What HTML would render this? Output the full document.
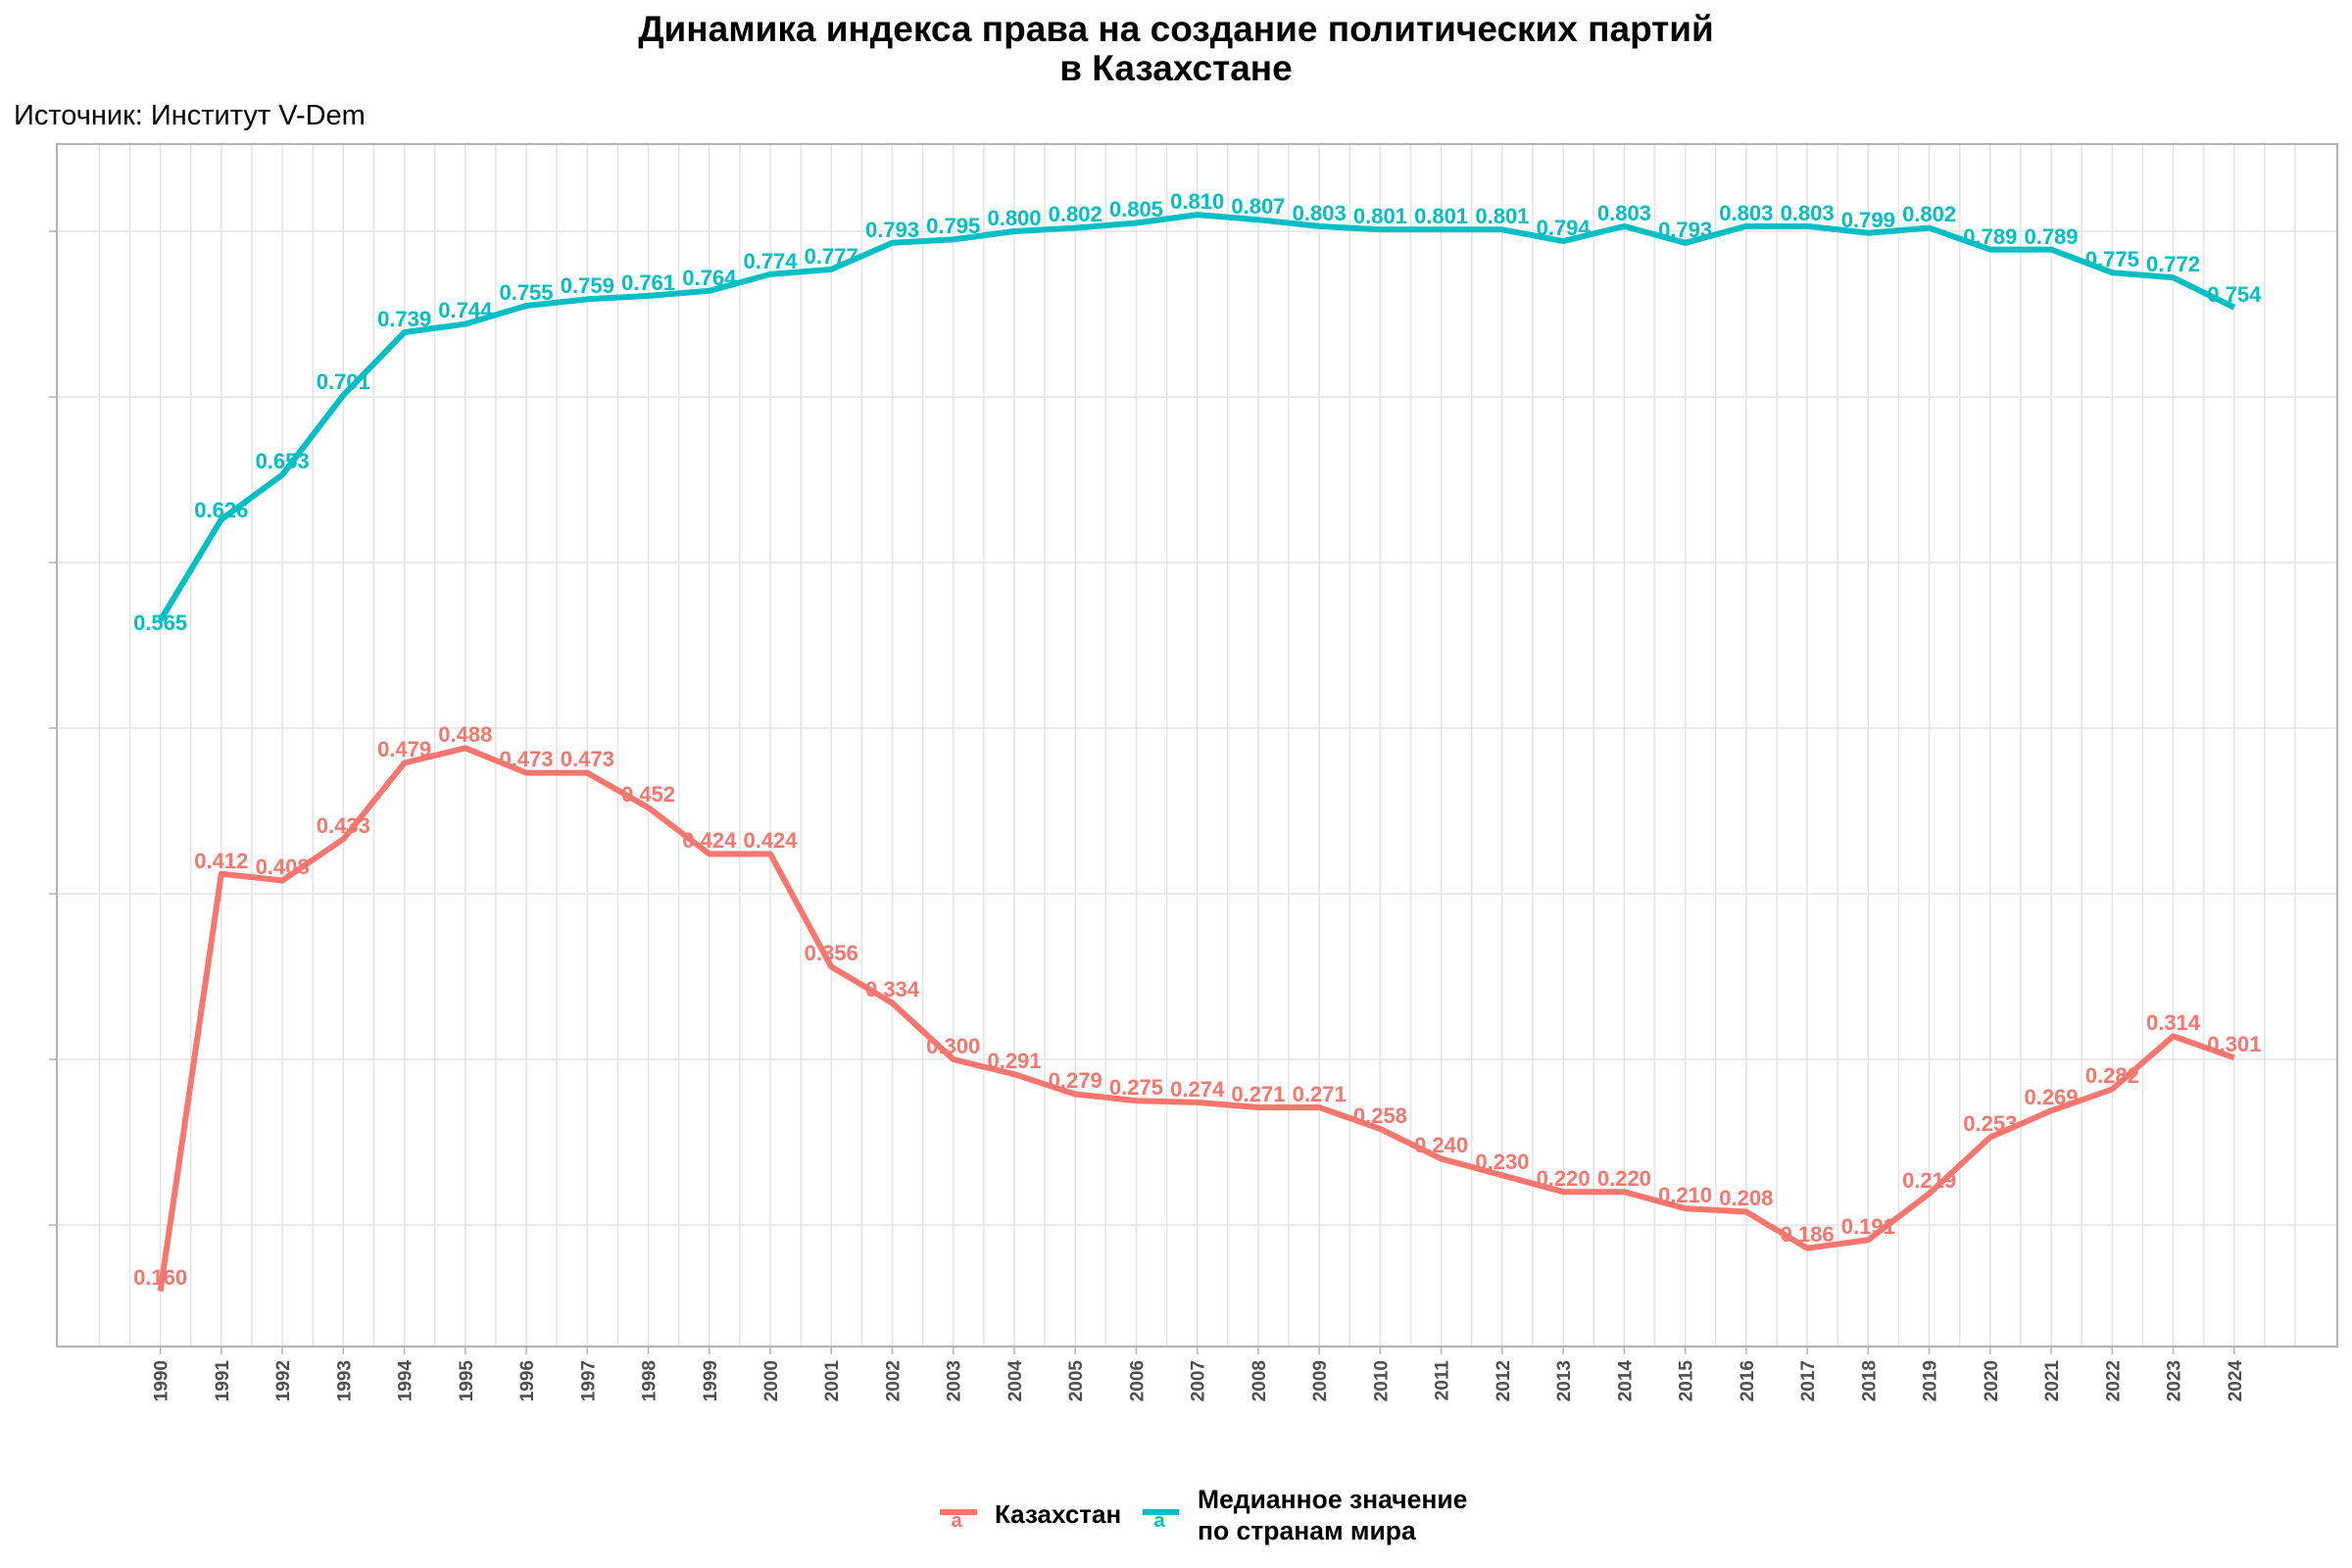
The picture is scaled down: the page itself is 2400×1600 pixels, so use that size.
<!DOCTYPE html>
<html><head><meta charset="utf-8"><style>
html,body{margin:0;padding:0;background:#fff;}
svg{display:block;font-family:"Liberation Sans","DejaVu Sans",sans-serif;}
.k text{fill:#F8766D;}
.m text{fill:#00BFC4;}
.lbl text{font-size:22px;font-weight:bold;text-anchor:middle;}
.xl text{font-size:19px;font-weight:bold;fill:#4d4d4d;text-anchor:end;}
</style></head><body>
<svg id="s" width="2400" height="1600" viewBox="0 0 2400 1600" xmlns="http://www.w3.org/2000/svg">
<rect width="2400" height="1600" fill="#fff"/>
<g id="grid"></g>
<rect x="58" y="147" width="2327" height="1227" fill="none" stroke="#b3b3b3" stroke-width="2"/>
<text x="1200" y="42" font-size="37" font-weight="bold" text-anchor="middle">Динамика индекса права на создание политических партий</text>
<text x="1200" y="82" font-size="37" font-weight="bold" text-anchor="middle">в Казахстане</text>
<text x="14" y="127" font-size="29">Источник: Институт V-Dem</text>

<polyline fill="none" stroke="#F8766D" stroke-width="6" stroke-linejoin="round" points="163.6,1317.6 225.8,891.7 288.1,898.5 350.3,856.2 412.6,778.5 474.8,763.3 537,788.6 599.3,788.6 661.5,824.1 723.8,871.4 786,871.4 848.2,986.4 910.5,1023.5 972.7,1081 1035,1096.2 1097.2,1116.5 1159.4,1123.2 1221.7,1124.9 1283.9,1130 1346.2,1130 1408.4,1152 1470.6,1182.4 1532.9,1199.3 1595.1,1216.2 1657.4,1216.2 1719.6,1233.1 1781.8,1236.5 1844.1,1273.7 1906.3,1265.2 1968.6,1217.9 2030.8,1160.4 2093,1133.4 2155.3,1111.4 2217.5,1057.3 2279.8,1079.3"/>
<polyline fill="none" stroke="#00BFC4" stroke-width="6" stroke-linejoin="round" points="163.6,633.1 225.8,530.1 288.1,484.4 350.3,403.3 412.6,339.1 474.8,330.6 537,312 599.3,305.3 661.5,301.9 723.8,296.8 786,279.9 848.2,274.9 910.5,247.8 972.7,244.4 1035,236 1097.2,232.6 1159.4,227.5 1221.7,219.1 1283.9,224.2 1346.2,230.9 1408.4,234.3 1470.6,234.3 1532.9,234.3 1595.1,246.1 1657.4,230.9 1719.6,247.8 1781.8,230.9 1844.1,230.9 1906.3,237.7 1968.6,232.6 2030.8,254.6 2093,254.6 2155.3,278.2 2217.5,283.3 2279.8,313.7"/>

<g class="lbl k">
<text x="163.6" y="1311">0.160</text><text x="225.8" y="886">0.412</text><text x="288.1" y="892">0.408</text><text x="350.3" y="850">0.433</text><text x="412.6" y="772">0.479</text><text x="474.8" y="757">0.488</text><text x="537" y="782">0.473</text><text x="599.3" y="782">0.473</text><text x="661.5" y="818">0.452</text><text x="723.8" y="865">0.424</text><text x="786" y="865">0.424</text><text x="848.2" y="980">0.356</text><text x="910.5" y="1017">0.334</text><text x="972.7" y="1075">0.300</text><text x="1035" y="1090">0.291</text><text x="1097.2" y="1110">0.279</text><text x="1159.4" y="1117">0.275</text><text x="1221.7" y="1119">0.274</text><text x="1283.9" y="1124">0.271</text><text x="1346.2" y="1124">0.271</text><text x="1408.4" y="1146">0.258</text><text x="1470.6" y="1176">0.240</text><text x="1532.9" y="1193">0.230</text><text x="1595.1" y="1210">0.220</text><text x="1657.4" y="1210">0.220</text><text x="1719.6" y="1227">0.210</text><text x="1781.8" y="1230">0.208</text><text x="1844.1" y="1267">0.186</text><text x="1906.3" y="1259">0.191</text><text x="1968.6" y="1212">0.219</text><text x="2030.8" y="1154">0.253</text><text x="2093" y="1127">0.269</text><text x="2155.3" y="1105">0.282</text><text x="2217.5" y="1051">0.314</text><text x="2279.8" y="1073">0.301</text>
</g>
<g class="lbl m">
<text x="163.6" y="643">0.565</text><text x="225.8" y="528">0.626</text><text x="288.1" y="478">0.653</text><text x="350.3" y="397">0.701</text><text x="412.6" y="333">0.739</text><text x="474.8" y="324">0.744</text><text x="537" y="306">0.755</text><text x="599.3" y="299">0.759</text><text x="661.5" y="296">0.761</text><text x="723.8" y="291">0.764</text><text x="786" y="274">0.774</text><text x="848.2" y="269">0.777</text><text x="910.5" y="242">0.793</text><text x="972.7" y="238">0.795</text><text x="1035" y="230">0.800</text><text x="1097.2" y="226">0.802</text><text x="1159.4" y="221">0.805</text><text x="1221.7" y="213">0.810</text><text x="1283.9" y="218">0.807</text><text x="1346.2" y="225">0.803</text><text x="1408.4" y="228">0.801</text><text x="1470.6" y="228">0.801</text><text x="1532.9" y="228">0.801</text><text x="1595.1" y="240">0.794</text><text x="1657.4" y="225">0.803</text><text x="1719.6" y="242">0.793</text><text x="1781.8" y="225">0.803</text><text x="1844.1" y="225">0.803</text><text x="1906.3" y="232">0.799</text><text x="1968.6" y="226">0.802</text><text x="2030.8" y="249">0.789</text><text x="2093" y="249">0.789</text><text x="2155.3" y="272">0.775</text><text x="2217.5" y="277">0.772</text><text x="2279.8" y="308">0.754</text>
</g>

<g class="xl">
<text transform="translate(170.6,1388) rotate(-90)">1990</text><text transform="translate(232.8,1388) rotate(-90)">1991</text><text transform="translate(295.1,1388) rotate(-90)">1992</text><text transform="translate(357.3,1388) rotate(-90)">1993</text><text transform="translate(419.6,1388) rotate(-90)">1994</text><text transform="translate(481.8,1388) rotate(-90)">1995</text><text transform="translate(544,1388) rotate(-90)">1996</text><text transform="translate(606.3,1388) rotate(-90)">1997</text><text transform="translate(668.5,1388) rotate(-90)">1998</text><text transform="translate(730.8,1388) rotate(-90)">1999</text><text transform="translate(793,1388) rotate(-90)">2000</text><text transform="translate(855.2,1388) rotate(-90)">2001</text><text transform="translate(917.5,1388) rotate(-90)">2002</text><text transform="translate(979.7,1388) rotate(-90)">2003</text><text transform="translate(1042,1388) rotate(-90)">2004</text><text transform="translate(1104.2,1388) rotate(-90)">2005</text><text transform="translate(1166.4,1388) rotate(-90)">2006</text><text transform="translate(1228.7,1388) rotate(-90)">2007</text><text transform="translate(1290.9,1388) rotate(-90)">2008</text><text transform="translate(1353.2,1388) rotate(-90)">2009</text><text transform="translate(1415.4,1388) rotate(-90)">2010</text><text transform="translate(1477.6,1388) rotate(-90)">2011</text><text transform="translate(1539.9,1388) rotate(-90)">2012</text><text transform="translate(1602.1,1388) rotate(-90)">2013</text><text transform="translate(1664.4,1388) rotate(-90)">2014</text><text transform="translate(1726.6,1388) rotate(-90)">2015</text><text transform="translate(1788.8,1388) rotate(-90)">2016</text><text transform="translate(1851.1,1388) rotate(-90)">2017</text><text transform="translate(1913.3,1388) rotate(-90)">2018</text><text transform="translate(1975.6,1388) rotate(-90)">2019</text><text transform="translate(2037.8,1388) rotate(-90)">2020</text><text transform="translate(2100,1388) rotate(-90)">2021</text><text transform="translate(2162.3,1388) rotate(-90)">2022</text><text transform="translate(2224.5,1388) rotate(-90)">2023</text><text transform="translate(2286.8,1388) rotate(-90)">2024</text>
</g>

<line x1="959" y1="1543" x2="997" y2="1543" stroke="#F8766D" stroke-width="6"/>
<text x="976" y="1558" font-size="20" font-weight="bold" fill="#F8766D" text-anchor="middle">a</text>
<text x="1015" y="1554" font-size="26" font-weight="bold">Казахстан</text>
<line x1="1166" y1="1543" x2="1203" y2="1543" stroke="#00BFC4" stroke-width="6"/>
<text x="1183" y="1558" font-size="20" font-weight="bold" fill="#00BFC4" text-anchor="middle">a</text>
<text x="1222" y="1539" font-size="26.5" font-weight="bold">Медианное значение</text>
<text x="1222" y="1571" font-size="26.5" font-weight="bold">по странам мира</text>
</svg>
<script>
(function(){
var g=document.getElementById('grid'),h='';
for(var k=-2;k<=70;k++){var x=163.6+31.12*k;h+='<line x1="'+x+'" y1="147" x2="'+x+'" y2="1374" stroke="#e3e3e3" stroke-width="1.5"/>';}
for(var i=0;i<35;i++){var x=163.6+62.24*i;h+='<line x1="'+x+'" y1="1374" x2="'+x+'" y2="1382" stroke="#b3b3b3" stroke-width="1.5"/>';}
[236,405,574,743,912,1081,1250].forEach(function(y){h+='<line x1="58" y1="'+y+'" x2="2385" y2="'+y+'" stroke="#e3e3e3" stroke-width="1.5"/><line x1="50" y1="'+y+'" x2="58" y2="'+y+'" stroke="#b3b3b3" stroke-width="1.5"/>';});
g.innerHTML=h;
})();
</script>
</body></html>
